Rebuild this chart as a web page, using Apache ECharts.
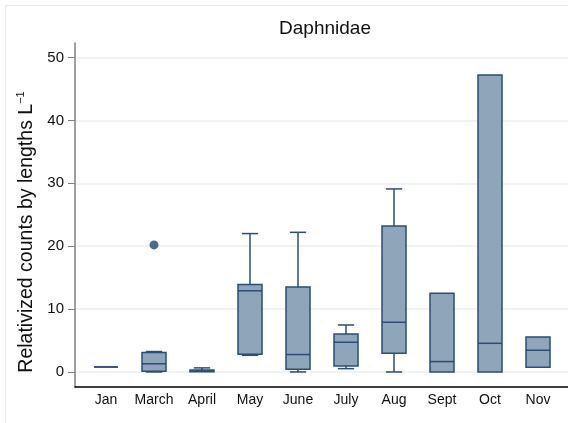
<!DOCTYPE html>
<html>
<head>
<meta charset="utf-8">
<script src="https://cdn.jsdelivr.net/npm/echarts@6/dist/echarts.min.js"></script>
<style>
  html, body { margin: 0; padding: 0; background: #fff; }
  #frame { position: absolute; left: 5px; top: 5px; width: 620px; height: 460px;
           border-left: 1px solid #e3ebee; border-top: 1px solid #e3ebee; }
  #chart { position: absolute; left: 0; top: 0; width: 568px; height: 423px; }
</style>
</head>
<body>
<div id="frame"></div>
<div id="chart"></div>
<script>
// months on the x axis (positions 1..10)
const months = ['Jan', 'March', 'April', 'May', 'June', 'July', 'Aug', 'Sept', 'Oct', 'Nov']
// box plot stats
const lowWhisker  = [0.8, 0.0,  0.0,  2.65, 0.0,  0.53, 0.0,  0.0,  0.0,  0.75]
const q1          = [0.8, 0.1,  0.02, 2.8,  0.43, 0.95, 2.97, 0.0,  0.0,  0.75]
const median      = [0.8, 1.3,  0.15, 12.9, 2.77, 4.72, 7.9,  1.65, 4.56, 3.45]
const q3          = [0.8, 3.1,  0.3,  13.9, 13.5, 6.04, 23.2, 12.5, 47.2, 5.57]
const highWhisker = [0.8, 3.25, 0.65, 22.0, 22.2, 7.47, 29.1, 12.5, 47.2, 5.57]
// outside values: [month, value]
const outliers = [['March', 20.2]]
const yTicks = [0, 10, 20, 30, 40, 50]

const edgeColor = '#2a4e76'
const fillColor = '#8fa5b9'
const font = '"Liberation Sans", Arial, Helvetica, sans-serif'

const boxData = months.map((m, i) => [i + 1, lowWhisker[i], q1[i], median[i], q3[i], highWhisker[i]])
const outlierData = outliers.map(o => [months.indexOf(o[0]) + 1, o[1]])

function renderBox(params, api) {
  const x = api.value(0)
  const band = api.size([1, 0])[0]
  const half = band * 0.25
  const cap = band * 0.17
  const lo = api.coord([x, api.value(1)])
  const b1 = api.coord([x, api.value(2)])
  const md = api.coord([x, api.value(3)])
  const b3 = api.coord([x, api.value(4)])
  const hi = api.coord([x, api.value(5)])
  const st = { stroke: edgeColor, lineWidth: 1.5 }
  const children = []
  if (hi[1] < b3[1] - 0.5) {
    children.push({ type: 'line', shape: { x1: hi[0], y1: hi[1], x2: b3[0], y2: b3[1] }, style: st })
    children.push({ type: 'line', shape: { x1: hi[0] - cap, y1: hi[1], x2: hi[0] + cap, y2: hi[1] }, style: st })
  }
  if (lo[1] > b1[1] + 0.5) {
    children.push({ type: 'line', shape: { x1: lo[0], y1: lo[1], x2: b1[0], y2: b1[1] }, style: st })
    children.push({ type: 'line', shape: { x1: lo[0] - cap, y1: lo[1], x2: lo[0] + cap, y2: lo[1] }, style: st })
  }
  children.push({
    type: 'rect',
    shape: { x: b3[0] - half, y: b3[1], width: half * 2, height: b1[1] - b3[1] },
    style: { fill: fillColor, stroke: edgeColor, lineWidth: 1.5 }
  })
  children.push({ type: 'line', shape: { x1: md[0] - half, y1: md[1], x2: md[0] + half, y2: md[1] }, style: st })
  return { type: 'group', children: children }
}

const chart = echarts.init(document.getElementById('chart'))
chart.setOption({
  animation: false,
  backgroundColor: 'transparent',
  title: {
    text: 'Daphnidae',
    left: 320,
    top: 14,
    textAlign: 'center',
    textStyle: { fontFamily: font, fontSize: 19, fontWeight: 'normal', color: '#111' }
  },
  grid: { left: 75, right: 0, top: 43, bottom: 36 },
  xAxis: {
    type: 'value',
    min: 0.354,
    max: 10.625,
    axisLine: { show: true, onZero: false, lineStyle: { color: '#000', width: 1.5 } },
    axisTick: { show: false },
    splitLine: { show: false },
    axisLabel: {
      customValues: months.map((m, i) => i + 1),
      formatter: v => months[Math.round(v) - 1] || '',
      margin: 6,
      fontFamily: font,
      fontSize: 14,
      color: '#111'
    }
  },
  yAxis: {
    type: 'value',
    min: -2.39,
    max: 52.3,
    name: '{a|Relativized counts by lengths L}{s|\u22121}',
    nameLocation: 'middle',
    nameGap: 36,
    nameRotate: 90,
    nameTextStyle: {
      padding: [0, 34, 0, 0],
      rich: {
        a: { fontFamily: font, fontSize: 19.5, color: '#111' },
        s: { fontFamily: font, fontSize: 11, color: '#111', padding: [0, 0, 11, 0] }
      }
    },
    axisLine: { show: true, lineStyle: { color: '#808080', width: 1.5 } },
    axisTick: { show: true, customValues: yTicks, length: 7, lineStyle: { color: '#808080', width: 1 } },
    splitLine: { show: true, lineStyle: { color: '#e8f0f2', width: 1.5 } },
    axisLabel: {
      customValues: yTicks,
      margin: 11,
      fontFamily: font,
      fontSize: 15,
      color: '#111'
    }
  },
  series: [
    {
      type: 'custom',
      renderItem: renderBox,
      data: boxData,
      encode: { x: 0, y: [1, 2, 3, 4, 5] },
      z: 3
    },
    {
      type: 'scatter',
      data: outlierData,
      symbol: 'circle',
      symbolSize: 9,
      itemStyle: { color: '#1b4673' },
      z: 4
    }
  ]
})
</script>
</body>
</html>
